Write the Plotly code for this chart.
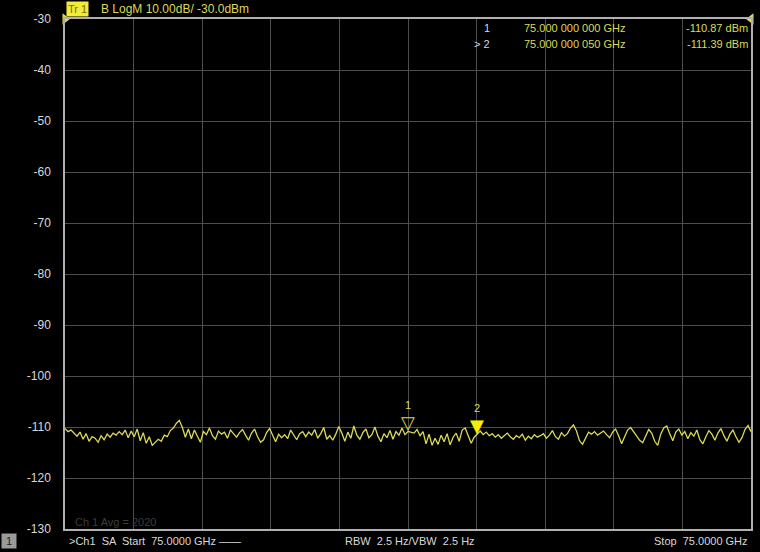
import numpy as np
import plotly.graph_objects as go

# ---- data ----
span_start_hz = -250.0
span_stop_hz = 250.0
trace_db = [
    -110.3, -110.9, -110.6, -111.2, -111.8, -111.0, -112.4, -111.3, -112.8, -111.9, -112.2, -113.0, -111.7, -112.5, -111.4, -112.0, -111.2, -111.6, -110.9, -111.5,
    -110.6, -112.1, -110.8, -111.9, -110.4, -112.7, -111.1, -113.2, -111.9, -113.6, -113.0, -112.4, -112.8, -111.6, -111.9, -110.7, -110.2, -109.3, -108.7, -110.1,
    -112.0, -110.4, -112.3, -110.6, -111.8, -113.0, -110.9, -111.5, -110.2, -111.7, -112.4, -110.8, -111.4, -111.0, -112.2, -110.6, -111.3, -112.0, -111.1, -110.5,
    -111.6, -112.6, -111.2, -110.4, -111.9, -113.0, -112.5, -111.1, -110.3, -111.8, -112.9, -111.4, -112.1, -111.5, -112.3, -110.6, -111.7, -112.5, -111.3, -110.9,
    -111.9, -111.0, -111.6, -110.5, -112.2, -111.3, -110.1, -112.4, -111.7, -112.6, -111.4, -109.9, -111.2, -112.8, -111.0, -112.2, -109.8, -111.6, -112.4, -111.1,
    -110.4, -112.1, -111.5, -110.0, -111.8, -112.9, -111.3, -112.1, -110.7, -112.4, -110.9, -111.6, -110.2, -111.5, -110.87, -111.0, -111.2, -110.5, -111.7, -110.9,
    -113.3, -111.4, -113.6, -112.2, -113.4, -111.6, -112.9, -111.3, -113.5, -112.0, -111.2, -112.8, -110.6, -110.2, -111.8, -113.2, -112.0, -111.39, -110.8, -111.5,
    -111.0, -111.7, -111.3, -112.0, -111.5, -112.2, -111.6, -111.2, -111.9, -112.4, -111.7, -112.1, -111.4, -112.6, -111.8, -112.3, -111.5, -112.0, -111.7, -111.3,
    -112.2, -111.6, -110.7, -111.9, -112.4, -111.1, -111.8, -111.3, -110.2, -109.6, -110.8, -112.7, -113.4, -112.1, -111.0, -111.4, -110.9, -111.6, -111.2, -110.8,
    -111.5, -112.1, -111.0, -110.4, -111.7, -113.3, -111.9, -110.6, -110.1, -110.9, -111.8, -112.6, -113.1, -111.7, -110.5, -111.2, -112.8, -113.6, -111.4, -110.2,
    -109.8, -111.3, -112.7, -111.0, -110.4, -111.6, -110.9, -112.3, -111.1, -111.8, -110.6, -112.5, -113.3, -111.9, -110.7, -111.4, -112.6, -111.2, -110.3, -111.7,
    -112.8, -111.4, -110.6, -111.9, -113.0, -112.1, -110.5, -109.7, -110.9,
]
marker_ids = ["1", "2"]
marker_offsets_hz = [0.0, 50.0]
marker_values_db = [-110.87, -111.39]
marker_freq_labels = ["75.000 000 000 GHz", "75.000 000 050 GHz"]
marker_value_labels = ["-110.87 dBm", "-111.39 dBm"]
y_ticks = [-30, -40, -50, -60, -70, -80, -90, -100, -110, -120, -130]
ref_level = -30
y_bottom = -130

freqs = np.linspace(span_start_hz, span_stop_hz, len(trace_db))

YEL = "#dcd956"
GRID = "#4d4d4d"
TXT = "#d8d8d8"
FONT = "Liberation Sans"

fig = go.Figure()
fig.add_trace(go.Scatter(x=freqs, y=trace_db, mode="lines",
                         line=dict(color=YEL, width=1.3), hoverinfo="skip"))

# reference level indicators
fig.add_trace(go.Scatter(x=[span_start_hz], y=[ref_level], mode="markers",
                         marker=dict(symbol="triangle-right", size=10, color=YEL),
                         cliponaxis=False, hoverinfo="skip"))
fig.add_trace(go.Scatter(x=[span_stop_hz], y=[ref_level], mode="markers",
                         marker=dict(symbol="triangle-left", size=10, color=YEL),
                         cliponaxis=False, hoverinfo="skip"))

fig.update_layout(
    width=760, height=552,
    margin=dict(l=65, r=9, t=19, b=23, autoexpand=False),
    paper_bgcolor="black", plot_bgcolor="black",
    showlegend=False,
    font=dict(family=FONT, color=TXT, size=12),
    xaxis=dict(range=[span_start_hz, span_stop_hz], dtick=50, tick0=span_start_hz,
               showgrid=True, gridcolor=GRID, gridwidth=1,
               showticklabels=False, zeroline=False,
               showline=True, linecolor="#b0b0b0", linewidth=1.5, mirror=True),
    yaxis=dict(range=[y_bottom, ref_level], tickvals=y_ticks,
               ticktext=[str(v) for v in y_ticks],
               showgrid=True, gridcolor=GRID, gridwidth=1, zeroline=False,
               ticks="", ticklabelstandoff=10,
               tickfont=dict(color=TXT, size=12, family=FONT),
               showline=True, linecolor="#b0b0b0", linewidth=1.5, mirror=True),
)

ann = []
# marker symbols (tip on the trace) and labels
for i in range(2):
    ann.append(dict(x=marker_offsets_hz[i], y=marker_values_db[i], xref="x", yref="y",
                    text=("\u25BD" if i == 0 else "\u25BC"), showarrow=False,
                    xanchor="center", yanchor="bottom", yshift=-4,
                    font=dict(color=(YEL if i == 0 else "#f6f000"), size=18, family="DejaVu Sans")))
    ann.append(dict(x=marker_offsets_hz[i], y=marker_values_db[i], xref="x", yref="y",
                    text=marker_ids[i], showarrow=False,
                    xanchor="center", yanchor="bottom", yshift=18,
                    font=dict(color=YEL, size=11, family=FONT)))
# title box
ann.append(dict(xref="paper", yref="paper", x=0.002, y=1.0, yshift=10, xanchor="left", yanchor="middle",
                text="Tr 1", showarrow=False, bgcolor="#f2ec3a",
                font=dict(color="#806a00", size=11, family=FONT), borderpad=1))
ann.append(dict(xref="paper", yref="paper", x=0.05, y=1.0, yshift=10, xanchor="left", yanchor="middle",
                text="B LogM 10.00dB/ -30.0dBm", showarrow=False,
                font=dict(color=YEL, size=12, family=FONT)))
# marker table
for i in range(2):
    ys = -9 - 16 * i
    ann.append(dict(xref="paper", yref="paper", x=0.622, y=1.0, yshift=ys, xanchor="right", yanchor="middle",
                    text=("1" if i == 0 else "&gt; 2"), showarrow=False,
                    font=dict(color=TXT, size=11, family=FONT)))
    ann.append(dict(xref="paper", yref="paper", x=0.666, y=1.0, yshift=ys, xanchor="left", yanchor="middle",
                    text=marker_freq_labels[i], showarrow=False,
                    font=dict(color=YEL, size=11, family=FONT)))
    ann.append(dict(xref="paper", yref="paper", x=0.998, y=1.0, yshift=ys, xanchor="right", yanchor="middle",
                    text=marker_value_labels[i], showarrow=False,
                    font=dict(color=YEL, size=11, family=FONT)))
# faint averaging label
ann.append(dict(xref="paper", yref="paper", x=0.012, y=0.0, yshift=7, xanchor="left", yanchor="middle",
                text="Ch 1 Avg = 2020", showarrow=False,
                font=dict(color="#3c3c3c", size=11, family=FONT)))
# bottom status bar
ann.append(dict(xref="paper", yref="paper", x=-0.0816, y=0.0, yshift=-12, xanchor="center", yanchor="middle",
                text=" 1 ", showarrow=False, bgcolor="#9a9a9a",
                font=dict(color="#202020", size=11, family=FONT), borderpad=1))
ann.append(dict(xref="paper", yref="paper", x=0.003, y=0.0, yshift=-12, xanchor="left", yanchor="middle",
                text="&gt;Ch1  SA  Start  75.0000 GHz \u2014\u2014", showarrow=False,
                font=dict(color=TXT, size=11, family=FONT)))
ann.append(dict(xref="paper", yref="paper", x=0.405, y=0.0, yshift=-12, xanchor="left", yanchor="middle",
                text="RBW  2.5 Hz/VBW  2.5 Hz", showarrow=False,
                font=dict(color=TXT, size=11, family=FONT)))
ann.append(dict(xref="paper", yref="paper", x=0.998, y=0.0, yshift=-12, xanchor="right", yanchor="middle",
                text="Stop  75.0000 GHz", showarrow=False,
                font=dict(color=TXT, size=11, family=FONT)))
fig.update_layout(annotations=ann)

fig.write_html("out.html", config={"displayModeBar": False},
               post_script="document.body.style.margin='0';document.body.style.overflow='hidden';")
